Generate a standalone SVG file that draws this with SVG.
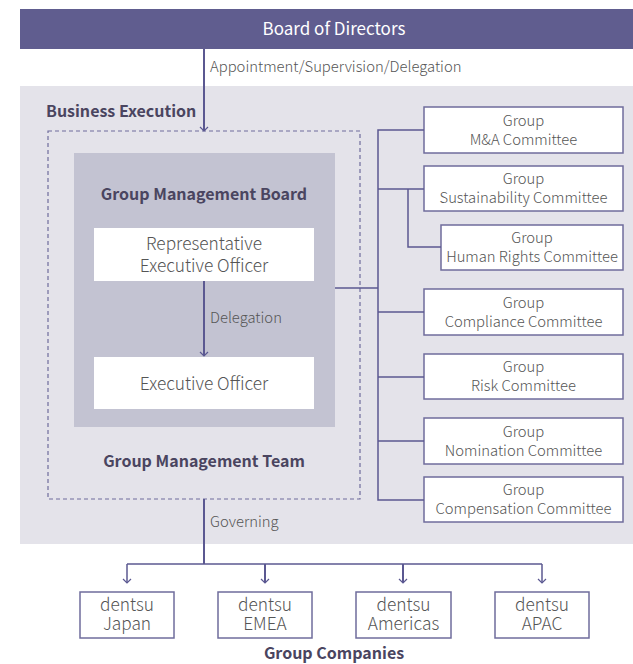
<svg xmlns="http://www.w3.org/2000/svg" width="633" height="664" viewBox="0 0 633 664">
<defs>
<style>
text{font-family:"Noto Sans CJK JP","Source Sans Pro","Noto Sans",sans-serif;}
.t{fill:#555555;font-size:14.8px;font-weight:300;text-anchor:middle;}
.tl{fill:#555555;font-size:17.3px;font-weight:300;text-anchor:middle;}
.lab{fill:#555555;font-size:14.8px;font-weight:300;}
.h{fill:#4a4560;font-size:16px;font-weight:700;}
.box{fill:#ffffff;stroke:#6f6c9c;stroke-width:1.5;}
.ln{fill:none;stroke:#5b5891;stroke-width:1.5;}
.ln2{fill:none;stroke:#5b5891;stroke-width:2;}
</style>
<marker id="ahd" viewBox="0 0 10 10" refX="5" refY="9" markerWidth="10" markerHeight="10" markerUnits="userSpaceOnUse" orient="0">
<path d="M1,5 L5,9 L9,5" fill="none" stroke="#5b5891" stroke-width="1.2"/>
</marker>
</defs>
<rect x="0" y="0" width="633" height="664" fill="#ffffff"/>
<g id="board">
<rect x="20" y="9" width="613" height="40" fill="#605d8f"/>
<text x="334" y="35" font-size="17" font-weight="400" fill="#ffffff" text-anchor="middle">Board of Directors</text>
</g>
<g id="business-execution">
<rect x="20" y="86" width="613" height="458" fill="#e4e3ea"/>
<text class="h" x="46" y="117">Business Execution</text>
</g>
<g id="group-management-team">
<rect x="48" y="131" width="312" height="368" fill="none" stroke="#6f6c9c" stroke-width="1.2" stroke-dasharray="4,3"/>
<text class="h" x="204" y="467" text-anchor="middle">Group Management Team</text>
</g>
<g id="group-management-board">
<rect x="74" y="153" width="261" height="274" fill="#c3c3d2"/>
<text class="h" x="204" y="200" text-anchor="middle">Group Management Board</text>
</g>
<g id="rep-exec">
<rect x="94" y="228" width="220" height="53" fill="#ffffff"/>
<text class="tl" x="204" y="250">Representative</text>
<text class="tl" x="204" y="272">Executive Officer</text>
</g>
<g id="exec">
<rect x="94" y="357" width="220" height="52" fill="#ffffff"/>
<text class="tl" x="204" y="390">Executive Officer</text>
</g>
<g id="c-ma">
<rect class="box" x="424" y="107" width="199" height="46"/>
<text class="t" x="523.5" y="126">Group</text>
<text class="t" x="523.5" y="145">M&amp;A Committee</text>
</g>
<g id="c-sus">
<rect class="box" x="424" y="166" width="199" height="45"/>
<text class="t" x="523.5" y="184">Group</text>
<text class="t" x="523.5" y="203">Sustainability Committee</text>
</g>
<g id="c-hr">
<rect class="box" x="441" y="225" width="182" height="45"/>
<text class="t" x="532" y="243">Group</text>
<text class="t" x="532" y="262">Human Rights Committee</text>
</g>
<g id="c-comp">
<rect class="box" x="424" y="289" width="199" height="46"/>
<text class="t" x="523.5" y="308">Group</text>
<text class="t" x="523.5" y="327">Compliance Committee</text>
</g>
<g id="c-risk">
<rect class="box" x="424" y="354" width="199" height="45"/>
<text class="t" x="523.5" y="372">Group</text>
<text class="t" x="523.5" y="391">Risk Committee</text>
</g>
<g id="c-nom">
<rect class="box" x="424" y="418" width="199" height="46"/>
<text class="t" x="523.5" y="437">Group</text>
<text class="t" x="523.5" y="456">Nomination Committee</text>
</g>
<g id="c-cmp">
<rect class="box" x="424" y="477" width="199" height="45"/>
<text class="t" x="523.5" y="495">Group</text>
<text class="t" x="523.5" y="514">Compensation Committee</text>
</g>
<g id="japan">
<rect class="box" x="80" y="592" width="94" height="46"/>
<text class="tl" x="127" y="611">dentsu</text>
<text class="tl" x="127" y="630">Japan</text>
</g>
<g id="emea">
<rect class="box" x="218" y="592" width="94" height="46"/>
<text class="tl" x="265" y="611">dentsu</text>
<text class="tl" x="265" y="630">EMEA</text>
</g>
<g id="americas">
<rect class="box" x="356" y="592" width="95" height="46"/>
<text class="tl" x="403.5" y="611">dentsu</text>
<text class="tl" x="403.5" y="630">Americas</text>
</g>
<g id="apac">
<rect class="box" x="495" y="592" width="94" height="46"/>
<text class="tl" x="542" y="611">dentsu</text>
<text class="tl" x="542" y="630">APAC</text>
</g>
<g id="group-companies">
<text class="h" x="334" y="659" text-anchor="middle">Group Companies</text>
</g>
<g id="connectors">
<line class="ln2" x1="204" y1="49" x2="204" y2="131" marker-end="url(#ahd)"/>
<text class="lab" x="210" y="72">Appointment/Supervision/Delegation</text>
<line class="ln2" x1="204" y1="281" x2="204" y2="356" marker-end="url(#ahd)"/>
<text class="lab" x="210" y="323">Delegation</text>
<line class="ln" x1="335" y1="288" x2="378" y2="288"/>
<path class="ln" d="M424,130 H378 V500 H424"/>
<line class="ln" x1="378" y1="189" x2="424" y2="189"/>
<path class="ln" d="M408,189 V247 H441"/>
<line class="ln" x1="378" y1="312" x2="424" y2="312"/>
<line class="ln" x1="378" y1="377" x2="424" y2="377"/>
<line class="ln" x1="378" y1="441" x2="424" y2="441"/>
<line class="ln2" x1="204" y1="499" x2="204" y2="564"/>
<text class="lab" x="210" y="527">Governing</text>
<line class="ln" x1="127" y1="564" x2="542" y2="564"/>
<line class="ln" x1="127" y1="564" x2="127" y2="583" stroke-width="1" marker-end="url(#ahd)"/>
<line class="ln2" x1="265" y1="564" x2="265" y2="583" marker-end="url(#ahd)"/>
<line class="ln2" x1="403" y1="564" x2="403" y2="583" marker-end="url(#ahd)"/>
<line class="ln" x1="542" y1="564" x2="542" y2="583" stroke-width="1" marker-end="url(#ahd)"/>
</g>
</svg>
